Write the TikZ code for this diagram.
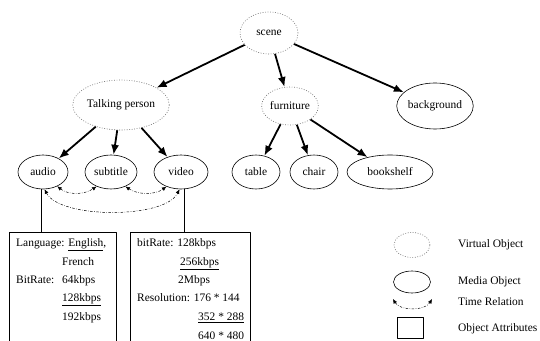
\documentclass[tikz,border=0pt]{standalone}
\usepackage{fontspec}
\setmainfont{Liberation Serif}
\usetikzlibrary{shapes.geometric,arrows.meta}
\tikzset{
  virtual/.style={ellipse,draw=black!55,line width=0.6bp,dash pattern=on 0.9bp off 1.6bp,inner sep=0pt,font=\fontsize{11.5}{13}\selectfont},
  media/.style={ellipse,draw=black,line width=0.6bp,inner sep=0pt,font=\fontsize{11.5}{13}\selectfont},
  attrbox/.style={rectangle,draw=black,line width=0.6bp,inner sep=0pt},
  txt/.style={anchor=base west,inner sep=0pt,font=\fontsize{11.5}{13}\selectfont},
  tree/.style={black,-{Latex[length=10bp,width=8bp]},line width=1.8bp},
  timerel/.style={black,{Latex[length=4.5bp,width=4bp]}-{Latex[length=4.5bp,width=4bp]},line width=0.5bp,dash pattern=on 2.5bp off 1.5bp on 0.6bp off 1.5bp},
}
\begin{document}
\begin{tikzpicture}[>=latex,line join=bevel,]
\useasboundingbox (0bp,0bp) rectangle (540bp,341bp);
%%
\node (node_scene) at (269bp,308bp) [virtual,minimum width=58bp,minimum height=42bp] {scene};
  \node (node_person) at (121bp,236bp) [virtual,minimum width=82bp,minimum height=50bp] {Talking person};
  \node (node_furniture) at (290bp,235bp) [virtual,minimum width=56bp,minimum height=38bp] {furniture};
  \node (node_background) at (435bp,235bp) [media,minimum width=74bp,minimum height=46bp] {background};
  \node (node_audio) at (43bp,169bp) [media,minimum width=50bp,minimum height=34bp] {audio};
  \node (node_subtitle) at (111bp,169bp) [media,minimum width=52bp,minimum height=34bp] {subtitle};
  \node (node_video) at (181bp,169bp) [media,minimum width=54bp,minimum height=34bp] {video};
  \node (node_table) at (256bp,169bp) [media,minimum width=48bp,minimum height=34bp] {table};
  \node (node_chair) at (314bp,169bp) [media,minimum width=48bp,minimum height=34bp] {chair};
  \node (node_bookshelf) at (390bp,169bp) [media,minimum width=86bp,minimum height=34bp] {bookshelf};
  \draw [tree] (node_scene) -- (node_person);
  \draw [tree] (node_scene) -- (node_furniture);
  \draw [tree] (node_scene) -- (node_background);
  \draw [tree] (node_person) -- (node_audio);
  \draw [tree] (node_person) -- (node_subtitle);
  \draw [tree] (node_person) -- (node_video);
  \draw [tree] (node_furniture) -- (node_table);
  \draw [tree] (node_furniture) -- (node_chair);
  \draw [tree] (node_furniture) -- (node_bookshelf);
  \draw [timerel] (node_audio.-45) ..controls (68bp,146bp) and (84bp,146bp)  .. (node_subtitle.-135);
  \draw [timerel] (node_subtitle.-45) ..controls (138bp,146bp) and (155bp,146bp)  .. (node_video.-135);
  \draw [timerel] (node_audio.-85) ..controls (60bp,122bp) and (165bp,122bp)  .. (node_video.-95);
%
\node (attr_audio) at (62.5bp,53bp) [attrbox,minimum width=107bp,minimum height=112bp] {};
  \node (attr_video) at (190bp,53bp) [attrbox,minimum width=120bp,minimum height=112bp] {};
  \draw [black,line width=0.6bp] (node_audio.-97) -- (attr_audio.north -| node_audio.-97);
  \draw [black,line width=0.6bp] (node_video.-80) -- (attr_video.north -| node_video.-80);
  \node (txt_lang) at (16bp,94.5bp) [txt] {Language: \underline{English},};
  \node (txt_french) at (62bp,75.5bp) [txt] {French};
  \node (txt_bitrate) at (16bp,57.5bp) [txt] {BitRate:};
  \node (txt_64) at (62bp,57.5bp) [txt] {64kbps};
  \node (txt_128) at (62bp,39.5bp) [txt] {\underline{128kbps}};
  \node (txt_192) at (62bp,20.5bp) [txt] {192kbps};
  \node (txt_vbit) at (137bp,94.5bp) [txt] {bitRate: 128kbps};
  \node (txt_256) at (180bp,75.5bp) [txt] {\underline{256kbps}};
  \node (txt_2m) at (178bp,57.5bp) [txt] {2Mbps};
  \node (txt_res) at (137bp,39.5bp) [txt] {Resolution: 176 * 144};
  \node (txt_352) at (198bp,20.5bp) [txt] {\underline{352 * 288}};
  \node (txt_640) at (198bp,1.5bp) [txt] {640 * 480};
%
\node (key_virtual) at (412bp,96bp) [virtual,minimum width=36bp,minimum height=25bp] {};
  \node (key_media) at (412bp,59bp) [media,minimum width=37bp,minimum height=22bp] {};
  \coordinate (key_time_l) at (393bp,42bp);
  \coordinate (key_time_r) at (432bp,42bp);
  \draw [timerel] (key_time_l) ..controls (400bp,30bp) and (425bp,30bp)  .. (key_time_r);
  \node (key_attr) at (410bp,13.5bp) [attrbox,minimum width=26bp,minimum height=21bp] {};
  \node (lbl_virtual) at (458bp,93bp) [txt] {Virtual Object};
  \node (lbl_media) at (458bp,56bp) [txt] {Media Object};
  \node (lbl_time) at (458bp,36bp) [txt] {Time Relation};
  \node (lbl_attr) at (458bp,10bp) [txt] {Object Attributes};
%
\end{tikzpicture}
\end{document}
